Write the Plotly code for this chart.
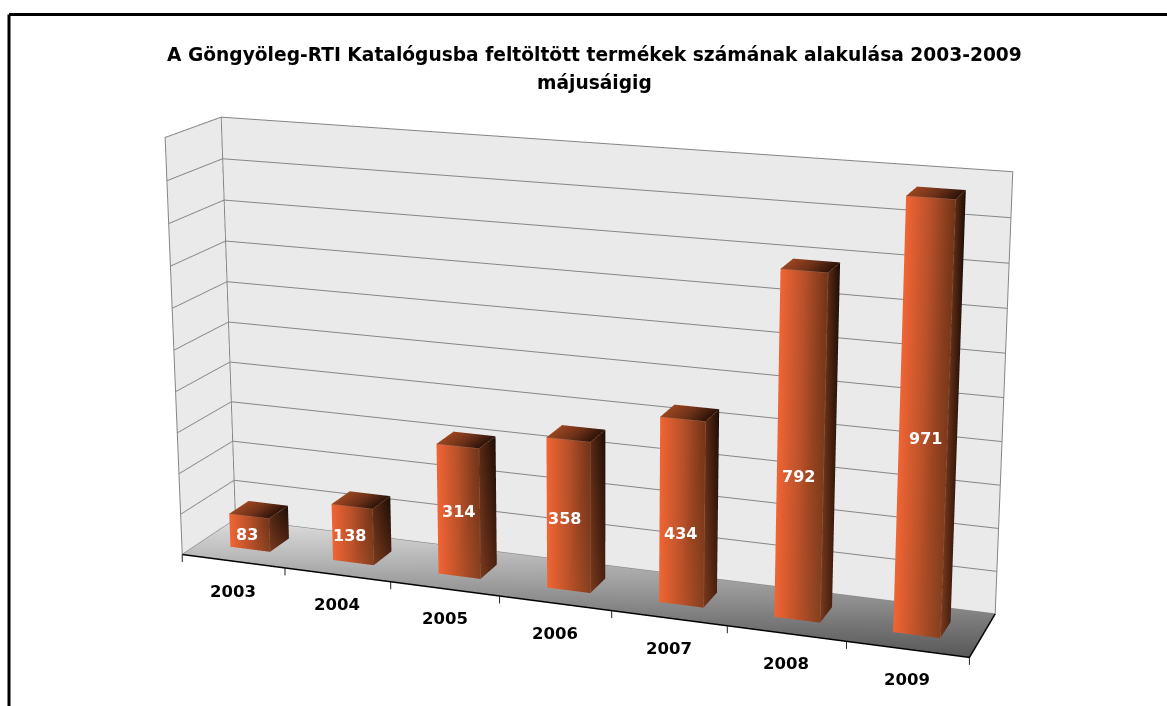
import numpy as np
import plotly.graph_objects as go

years = ["2003", "2004", "2005", "2006", "2007", "2008", "2009"]
values = [83, 138, 314, 358, 434, 792, 971]
title_lines = ["A Göngyöleg-RTI Katalógusba feltöltött termékek számának alakulása 2003-2009", "májusáigig"]

# label placement relative to the centre of each bar's front face, in pixels
label_dx = [-3, -3, 0, -4, -2, -2, 2]
label_dy = [2, 1, 0, 3, 21, 28, 17]

# window and camera
W, H = 1167, 706
EYE, CEN = np.array([1.9781, -5.3374, 1.6286]), np.array([-0.1903, 0.6600, 0.0])
ASPECT = np.array([1.8816, 0.2704, 1.0])
FOCAL, PPX, PPY = 2639.9, 596.2, 297.1   # focal length and principal point, px

sc = 1/np.prod(ASPECT)**(1/3)
eye, cen, asp = EYE*sc, CEN*sc, ASPECT*sc
FH = 2*FOCAL*np.tan(np.pi/8)
FW = 2*max(PPX, W-PPX)
ox, oy = FW/2-PPX, FH/2-PPY
FH, FW = int(round(FH)), int(round(FW))
def PX(x): return (x+ox)/FW
def PY(y): return 1-(y+oy)/FH

X, Y, Z, C, I, J_, K = [], [], [], [], [], [], []
def quad(corners, colors):
    n = len(X)
    for (x, y, z), c in zip(corners, colors):
        X.append(x); Y.append(y); Z.append(z); C.append(c)
    I.extend([n, n]); J_.extend([n+1, n+2]); K.extend([n+2, n+3])
def lerp(a, b, u):
    return [a[i] + (b[i]-a[i])*u for i in range(2)]
def wall(a, b, h, stops):
    for s0, s1 in zip(stops[:-1], stops[1:]):
        p0, p1 = lerp(a, b, s0[0]), lerp(a, b, s1[0])
        quad([(p0[0],p0[1],0),(p1[0],p1[1],0),(p1[0],p1[1],h),(p0[0],p0[1],h)],[s0[1],s1[1],s1[2],s0[2]])
def lid(x0, x1, y0, y1, h, stops):
    for s0, s1 in zip(stops[:-1], stops[1:]):
        a0, a1 = x0+(x1-x0)*s0[0], x0+(x1-x0)*s1[0]
        quad([(a0,y0,h),(a1,y0,h),(a1,y1,h),(a0,y1,h)],[s0[1],s1[1],s1[1],s0[1]])

# stop position, colour at the foot, colour at the top
front = [(0,"#F26534","#F26534"),(.5,"#BC5229","#B8512A"),(1,"#84401F","#713418")]
side = [(0,"#7A3A1E","#5C2A15"),(1,"#47200F","#1E0E06")]
top = [(0,"#9A4520"),(.5,"#6E3219"),(1,"#2C1309")]
bw, y0, y1 = 0.39, 0.32, 0.69
ex, ey, ez = [], [], []
for n, v in enumerate(values):
    x0, x1 = n+.5-bw/2, n+.5+bw/2
    wall((x0,y0),(x1,y0),v,front)
    wall((x1,y0),(x1,y1),v,side)
    lid(x0,x1,y0,y1,v,top)
    ex += [x0,x1,x1,None,x1,x1,None]; ey += [y0,y0,y0,None,y0,y1,None]; ez += [v,v,0,None,v,v,None]

LIGHT = dict(ambient=1,diffuse=0,specular=0,roughness=1,fresnel=0)
bars = go.Mesh3d(x=X,y=Y,z=Z,i=I,j=J_,k=K,vertexcolor=C,flatshading=True,hoverinfo="skip",lighting=LIGHT)
highlights = go.Scatter3d(x=ex,y=ey,z=ez,mode="lines",hoverinfo="skip",line=dict(color="#9C6A50",width=1),showlegend=False)
floor = go.Mesh3d(x=[0,7,7,0],y=[0,0,1,1],z=[0,0,0,0],i=[0,0],j=[1,2],k=[2,3],
    vertexcolor=["#BBBBBB","#585858","#828282","#E0E0E0"],hoverinfo="skip",lighting=LIGHT)
NC = len(years)
edge = go.Scatter3d(x=[0,0,0,NC,NC,None,0,0,NC,None,0,0],y=[0,0,1,1,1,None,1,1,1,None,0,1],
    z=[0,1000,1000,1000,0,None,1000,0,0,None,0,0],mode="lines",hoverinfo="skip",
    line=dict(color="#868686",width=2),showlegend=False)
black = go.Scatter3d(x=[0,NC,NC],y=[0,0,1],z=[0,0,0],mode="lines",hoverinfo="skip",
    line=dict(color="#000000",width=3),showlegend=False)

anns = [dict(x=n+.5,y=0,z=0,text=f"<b>{y}</b>",showarrow=False,yshift=-30,
             font=dict(family="DejaVu Sans",size=16.5,color="#000")) for n,y in enumerate(years)]
anns += [dict(x=n+.5,y=y0,z=v/2,text=f"<b>{v}</b>",showarrow=False,xshift=dx,yshift=-dy,
             font=dict(family="DejaVu Sans",size=16,color="#fff")) for n,(v,dx,dy) in enumerate(zip(values,label_dx,label_dy))]
anns += [dict(x=n,y=0,z=0,text="",showarrow=True,arrowhead=0,arrowwidth=1,arrowcolor="#222",ax=0,ay=9,standoff=0)
         for n in range(NC+1)]

noax = dict(showticklabels=False,title="",showspikes=False,zeroline=False,showline=False)
fig = go.Figure([bars,highlights,floor,edge,black])
fig.update_layout(width=FW,height=FH,margin=dict(l=0,r=0,t=0,b=0),paper_bgcolor="#fff",showlegend=False,
    shapes=[dict(type="line",xref="paper",yref="paper",x0=PX(9),x1=PX(1167),y0=PY(14),y1=PY(14),line=dict(color="#000",width=3)),
            dict(type="line",xref="paper",yref="paper",x0=PX(9),x1=PX(9),y0=PY(706),y1=PY(14),line=dict(color="#000",width=3))],
    annotations=[dict(text=f"<b>{t}</b>",x=PX(594.5),y=PY(yy),xref="paper",yref="paper",showarrow=False,xanchor="center",yanchor="middle",
                      font=dict(family="DejaVu Sans",size=18.65,color="#000")) for t,yy in zip(title_lines,[54,82])],
    scene=dict(domain=dict(x=[0,1],y=[0,1]),aspectmode="manual",aspectratio=dict(x=asp[0],y=asp[1],z=asp[2]),
        camera=dict(eye=dict(x=eye[0],y=eye[1],z=eye[2]),center=dict(x=cen[0],y=cen[1],z=cen[2]),up=dict(x=0,y=0,z=1)),
        xaxis=dict(range=[0,NC],showgrid=False,showbackground=True,backgroundcolor="#EAEAEA",ticks="",**noax),
        yaxis=dict(range=[0,1],showgrid=False,showbackground=True,backgroundcolor="#EAEAEA",ticks="",**noax),
        zaxis=dict(range=[0,1000],tickvals=list(range(0,1001,100)),ticks="",showgrid=True,gridcolor="#868686",gridwidth=2,
                   showbackground=False,**noax),
        annotations=anns))
fig.write_html("out.html",config=dict(displayModeBar=False),
    post_script=f"document.documentElement.style.overflow='hidden';document.body.style.overflow='hidden';document.body.style.margin='0';"
                f"var d=document.querySelector('.plotly-graph-div');d.style.position='absolute';d.style.left='{-ox:.1f}px';d.style.top='{-oy:.1f}px';")
